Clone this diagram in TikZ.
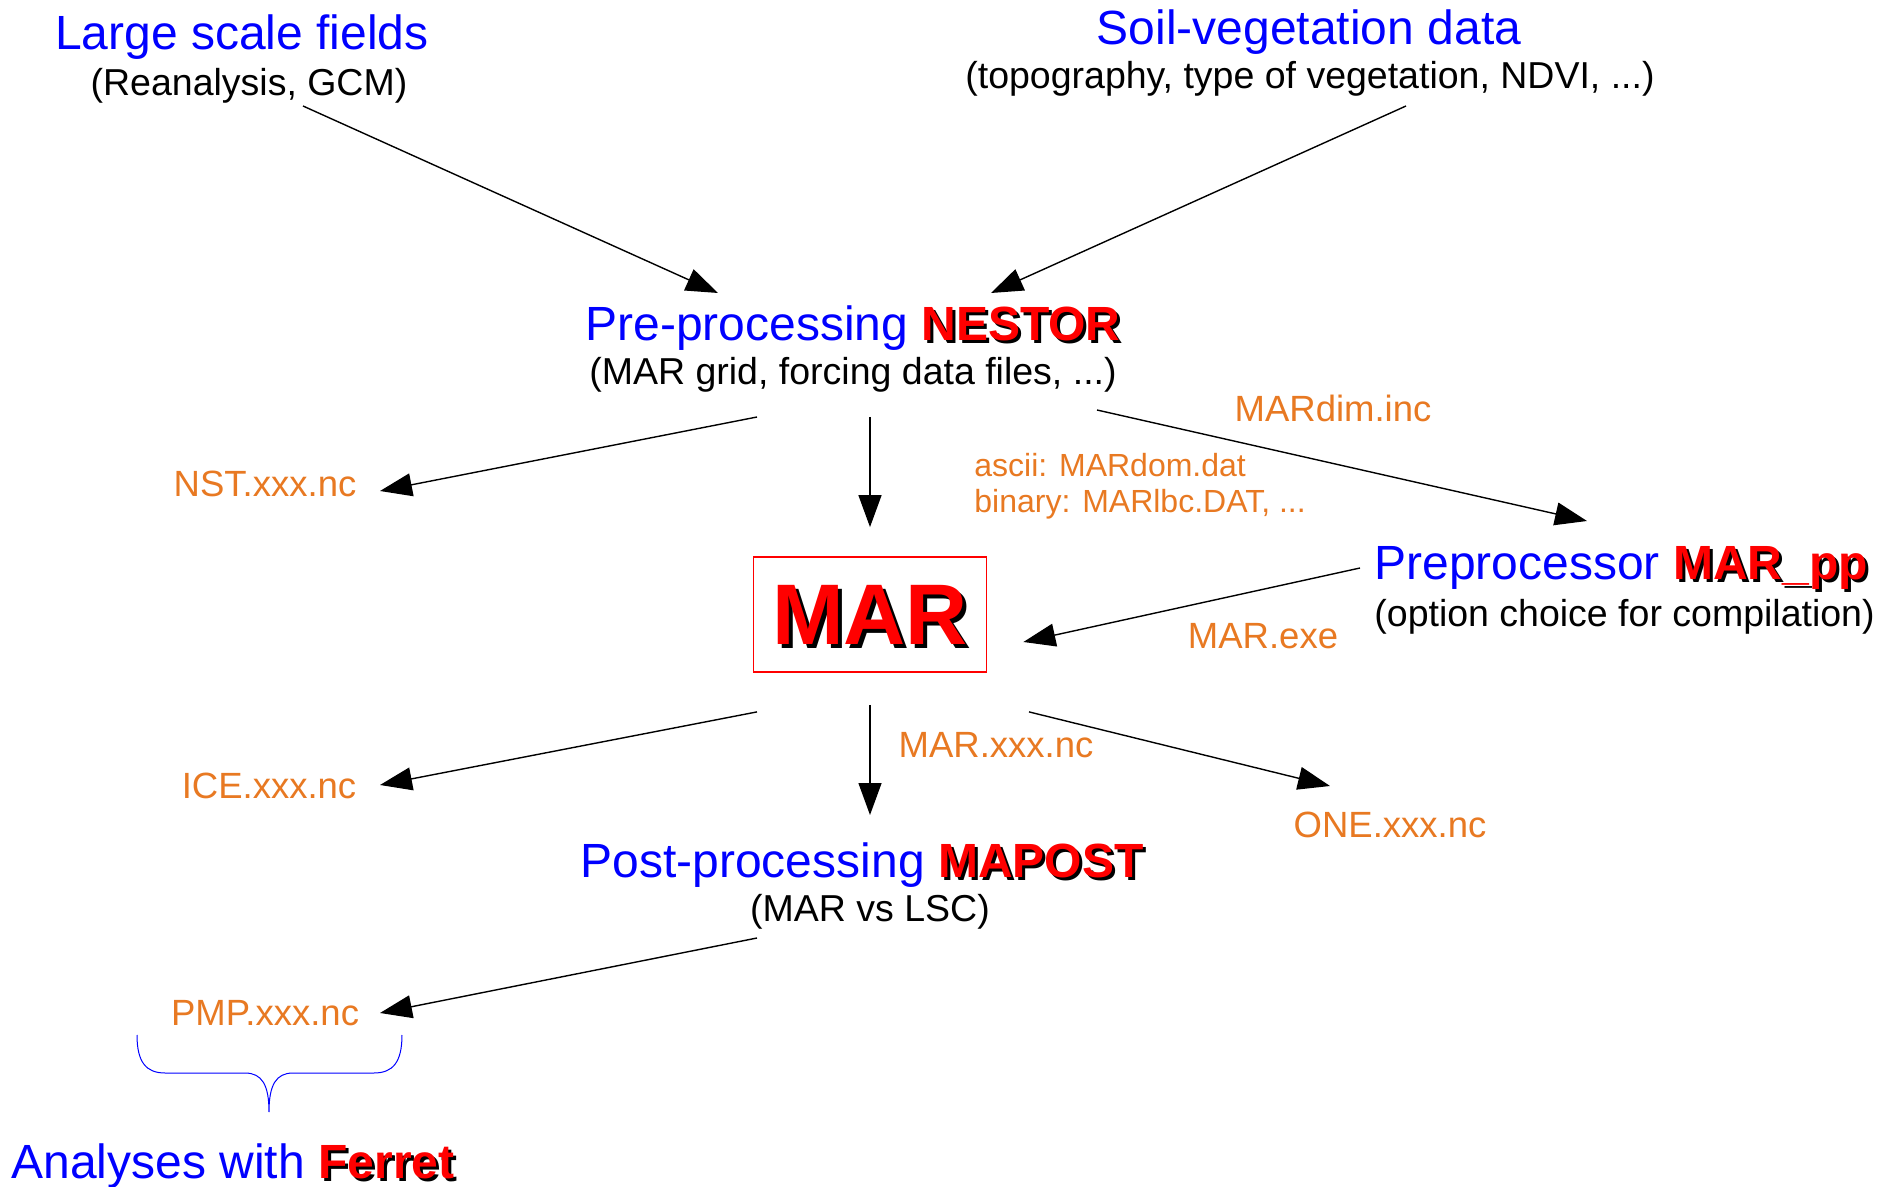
\documentclass[tikz,border=0pt]{standalone}
\usepackage{fontspec}
\setmainfont{Liberation Sans}
\usetikzlibrary{arrows.meta}
\definecolor{mar_blue}{RGB}{0,0,255}
\definecolor{mar_red}{RGB}{255,0,0}
\definecolor{mar_orange}{RGB}{232,121,34}
\newcommand{\shadowed}[2][1.5pt]{%
	\rlap{\hspace*{#1}\raisebox{-#1}[0pt][0pt]{\color{black}\bfseries #2}}%
	{\color{mar_red}\bfseries #2}}
\tikzset{
	textnode/.style = {
		inner sep=0pt,
		anchor=base
	},
	node_title/.style = {
		textnode,
		mar_blue,
		font=\fontsize{24}{29}\selectfont
	},
	node_sub/.style = {
		textnode,
		black,
		font=\fontsize{18.75}{22}\selectfont
	},
	node_file/.style = {
		textnode,
		mar_orange,
		font=\fontsize{18.25}{22}\selectfont
	},
	node_fmt/.style = {
		textnode,
		mar_orange,
		anchor=base west,
		font=\fontsize{16}{18}\selectfont
	},
	node_mar/.style = {
		draw=mar_red,
		line width=0.9pt,
		minimum width=116.5pt,
		minimum height=57.5pt,
		inner sep=0pt,
		font=\fontsize{43}{50}\selectfont
	},
	flow/.style = {
		-{Triangle[length=16pt,width=11.5pt]},
		line width=0.7pt
	}
}
\begin{document}
\begin{tikzpicture}[x=0.5pt,y=-0.5pt]
\path [use as bounding box, fill=white] (0,0) rectangle (1891,1187);
\node [node_title] (large) at (242,50) {Large scale fields};
\node [node_sub] (largesub) at (249,96) {(Reanalysis, GCM)};
\node [node_title] (soil) at (1309,45) {Soil-vegetation data};
\node [node_sub] (soilsub) at (1310,89) {(topography, type of vegetation, NDVI, ...)};
\node [node_title] (nestor) at (853,341) {Pre-processing \shadowed{NESTOR}};
\node [node_sub] (nestorsub) at (853,385) {(MAR grid, forcing data files, ...)};
\node [node_mar] (mar) at (870,614.5) {\shadowed[2pt]{MAR}};
\node [node_title, anchor=base west] (marpp) at (1374,580) {Preprocessor \shadowed{MAR\_pp}};
\node [node_sub, anchor=base west] (marppsub) at (1374,626) {(option choice for compilation)};
\node [node_title] (mapost) at (862,877) {Post-processing \shadowed{MAPOST}};
\node [node_sub] (mapostsub) at (870,921) {(MAR vs LSC)};
\node [node_title] (ferret) at (233,1178) {Analyses with \shadowed{Ferret}};
\node [node_file] (nst) at (265,497) {NST.xxx.nc};
\node [node_file] (mardim) at (1333,422) {MARdim.inc};
\node [node_fmt] (ascii) at (974,477) {ascii: MARdom.dat};
\node [node_fmt] (binary) at (974,513) {binary: MARlbc.DAT, ...};
\node [node_file] (marexe) at (1263,648) {MAR.exe};
\node [node_file] (ice) at (269,798) {ICE.xxx.nc};
\node [node_file] (marnc) at (996,757) {MAR.xxx.nc};
\node [node_file] (one) at (1390,837) {ONE.xxx.nc};
\node [node_file] (pmp) at (265,1025) {PMP.xxx.nc};
\draw [flow] ([shift={(54,10)}]largesub.base) -- ([shift={(-135,-48)}]nestor.base);
\draw [flow] ([shift={(96,17)}]soilsub.base) -- ([shift={(138,-48)}]nestor.base);
\draw [flow] ([shift={(-96,32)}]nestorsub.base) -- ([shift={(115,-6)}]nst.base);
\draw [flow] ([shift={(17,32)}]nestorsub.base) -- ([shift={(0,-29)}]mar.north);
\draw [flow] ([shift={(244,25)}]nestorsub.base) -- ([shift={(213,-59)}]marpp.base west);
\draw [flow] ([shift={(-14,-12)}]marpp.base west) -- ([shift={(36,27.5)}]mar.east);
\draw [flow] ([shift={(-113,39)}]mar.south) -- ([shift={(111,-13)}]ice.base);
\draw [flow] ([shift={(0,32)}]mar.south) -- ([shift={(8,-62)}]mapost.base);
\draw [flow] ([shift={(159,39)}]mar.south) -- ([shift={(-60,-51)}]one.base);
\draw [flow] ([shift={(-113,17)}]mapostsub.base) -- ([shift={(115,-12)}]pmp.base);
\draw [mar_blue, line width=0.5pt]
	(137,1035) .. controls (137,1062) and (146,1073) .. (165,1073) -- (245,1073)
	.. controls (262,1073) and (269,1085) .. (269,1112)
	.. controls (269,1085) and (276,1073) .. (293,1073) -- (374,1073)
	.. controls (393,1073) and (402,1062) .. (402,1035);
\end{tikzpicture}
\end{document}
